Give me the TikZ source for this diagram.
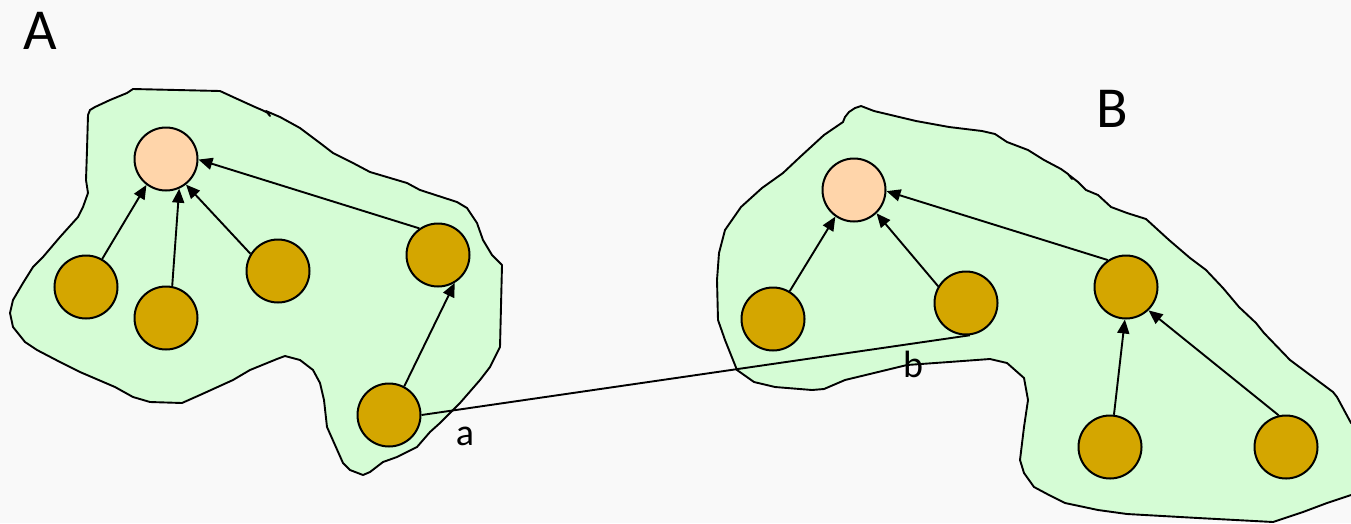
\documentclass[tikz,border=0pt]{standalone}
\usepackage{fontspec}
\setmainfont{Carlito}
\usetikzlibrary{arrows.meta}
\definecolor{bgc}{HTML}{F9F9F9}
\definecolor{blobc}{HTML}{D5FCD5}
\definecolor{rootc}{HTML}{FFD5AA}
\definecolor{leafc}{HTML}{D4A600}
\tikzset{
  blob/.style={draw=black, fill=blobc, line width=1.9, line join=round},
  rootnode/.style={circle, draw=black, fill=rootc, line width=2, minimum size=63, inner sep=0},
  leafnode/.style={circle, draw=black, fill=leafc, line width=2, minimum size=63, inner sep=0},
  edge/.style={draw=black, line width=1.9, -{Triangle[length=14,width=12]}},
  link/.style={draw=black, line width=1.9},
  biglabel/.style={font=\fontsize{58}{60}\selectfont, inner sep=0},
  smalllabel/.style={font=\fontsize{38}{40}\selectfont, inner sep=0}
}
\begin{document}
\begin{tikzpicture}[x=1pt,y=-1pt]
\useasboundingbox[fill=bgc] (0,0) rectangle (1351,523);
% blob A
\path[blob] (133,89) -- (220,91) -- (233,97) -- (255,107) -- (262,110) -- (268,113) -- (270,116) -- (266,111) -- (280,117) -- (300,128) -- (320,143) -- (333,153) -- (353,163) -- (370,172) -- (407,183) -- (420,190) -- (457,202) -- (467,208) -- (477,223) -- (483,240) -- (492,255) -- (502,265) -- (500,347) -- (490,367) -- (480,380) -- (460,403) -- (440,423) -- (430,432) -- (417,447) -- (397,457) -- (383,462) -- (370,472) -- (363,475) -- (350,470) -- (343,463) -- (327,427) -- (324,400) -- (320,383) -- (313,370) -- (300,360) -- (285,356) -- (277,359) -- (250,370) -- (233,380) -- (200,395) -- (182,403) -- (150,402) -- (133,397) -- (115,387) -- (80,372) -- (60,362) -- (37,350) -- (25,342) -- (13,327) -- (10,313) -- (13,300) -- (23,283) -- (33,267) -- (43,257) -- (60,237) -- (78,217) -- (83,207) -- (88,193) -- (86,180) -- (87,150) -- (88,115) -- (90,110) -- (95,107) -- (110,100) -- (127,93) -- cycle;
% blob B
\path[blob] (861,106) -- (874,111) -- (916,121) -- (949,127) -- (982,131) -- (995,134) -- (1007,142) -- (1028,150) -- (1044,160) -- (1061,169) -- (1068,174) -- (1072,179) -- (1069,175) -- (1078,182) -- (1086,190) -- (1098,195) -- (1111,207) -- (1127,213) -- (1146,219) -- (1169,240) -- (1190,258) -- (1206,270) -- (1223,288) -- (1239,307) -- (1256,323) -- (1264,333) -- (1290,360) -- (1333,392) -- (1337,397) -- (1351,423) -- (1358,423) -- (1358,495) -- (1351,495) -- (1327,503) -- (1303,512) -- (1273,522) -- (1198,518) -- (1127,514) -- (1098,510) -- (1065,503) -- (1049,495) -- (1034,487) -- (1024,473) -- (1020,460) -- (1024,427) -- (1028,400) -- (1024,378) -- (1007,363) -- (990,359) -- (949,362) -- (907,365) -- (874,373) -- (845,380) -- (824,389) -- (812,390) -- (775,387) -- (754,382) -- (737,370) -- (733,360) -- (725,340) -- (718,320) -- (717,280) -- (719,253) -- (725,230) -- (741,207) -- (762,188) -- (783,173) -- (800,157) -- (824,135) -- (843,122) -- (845,117) -- (849,112) -- (855,108) -- cycle;
% labels
\node[biglabel] (labA) at (40,31) {A};
\node[biglabel] (labB) at (1112,109) {B};
% nodes A
\node[rootnode] (rA) at (166,159) {};
\node[leafnode] (a1) at (86,287) {};
\node[leafnode] (a2) at (166,318) {};
\node[leafnode] (a3) at (278,271) {};
\node[leafnode] (a4) at (438,255) {};
\node[leafnode] (a5) at (389,415) {};
% nodes B
\node[rootnode] (rB) at (854,190) {};
\node[leafnode] (b1) at (773,319) {};
\node[leafnode] (b2) at (966,303) {};
\node[leafnode] (b3) at (1126,287) {};
\node[leafnode] (b4) at (1110,447) {};
\node[leafnode] (b5) at (1286,447) {};
% edges A
\draw[edge] (a1.60) -- (rA.-127);
\draw[edge] (a2.79) -- (rA.-66);
\draw[edge] (a3.148) -- (rA.-52);
\draw[edge] (a4.125) -- (rA.-1);
\draw[edge] (a5.62) -- (a4.-59);
% edges B
\draw[edge] (b1.59) -- (rB.-125);
\draw[edge] (b2.149) -- (rB.-46);
\draw[edge] (b3.124) -- (rB.-2);
\draw[edge] (b4.83) -- (b3.-92);
\draw[edge] (b5.103) -- (b3.-46);
% link between groups
\draw[link] (a5.0) -- (b2.-83);
\node[smalllabel] (la) at (465,436) {a};
\node[smalllabel] (lb) at (913,364) {b};
\end{tikzpicture}
\end{document}
